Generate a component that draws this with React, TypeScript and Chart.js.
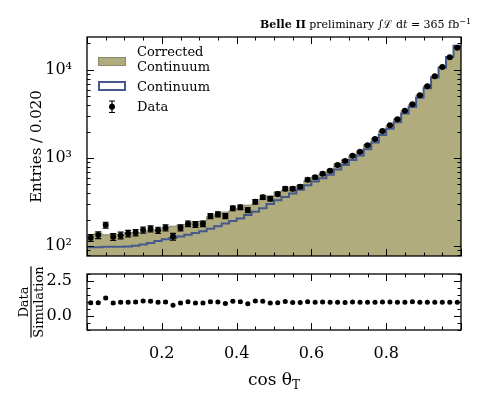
import React, { useEffect, useRef } from 'react';
import { Chart, registerables } from 'chart.js';
Chart.register(...registerables);

// ---------- data ----------
const binEdges = [
  0.0, 0.02, 0.04, 0.06, 0.08, 0.1, 0.12, 0.14, 0.16, 0.18, 0.2, 0.22, 0.24, 0.26, 0.28, 0.3, 0.32,
  0.34, 0.36, 0.38, 0.4, 0.42, 0.44, 0.46, 0.48, 0.5, 0.52, 0.54, 0.56, 0.58, 0.6, 0.62, 0.64, 0.66,
  0.68, 0.7, 0.72, 0.74, 0.76, 0.78, 0.8, 0.82, 0.84, 0.86, 0.88, 0.9, 0.92, 0.94, 0.96, 0.98, 1.0,
];
const binCenters = [
  0.01, 0.03, 0.05, 0.07, 0.09, 0.11, 0.13, 0.15, 0.17, 0.19, 0.21, 0.23, 0.25, 0.27, 0.29, 0.31, 0.33,
  0.35, 0.37, 0.39, 0.41, 0.43, 0.45, 0.47, 0.49, 0.51, 0.53, 0.55, 0.57, 0.59, 0.61, 0.63, 0.65, 0.67,
  0.69, 0.71, 0.73, 0.75, 0.77, 0.79, 0.81, 0.83, 0.85, 0.87, 0.89, 0.91, 0.93, 0.95, 0.97, 0.99,
];
const dataCounts = [
  124, 133, 173, 127, 132, 139, 142, 152, 157, 151, 161, 128, 161, 179, 176, 179, 219, 229, 219, 268,
  275, 256, 319, 357, 345, 390, 448, 448, 472, 566, 604, 663, 718, 832, 924, 1062, 1180, 1394, 1644,
  2028, 2355, 2754, 3450, 4077, 5158, 6530, 8470, 10810, 13930, 17910,
];
const correctedContinuum = [
  131, 140, 134, 137, 135, 142, 142, 142, 150, 154, 161, 168, 173, 175, 189, 192, 215, 229, 243, 255,
  270, 291, 298, 340, 371, 411, 431, 462, 487, 555, 610, 663, 725, 849, 953, 1062, 1192, 1422, 1661,
  2028, 2355, 2782, 3485, 4037, 5210, 6596, 8556, 10919, 14071, 18091,
];
const continuum = [
  97, 97, 98, 98, 98, 99, 101, 104, 108, 114, 119, 123, 128, 134, 141, 147, 157, 168, 180, 192, 206,
  225, 245, 268, 300, 330, 360, 395, 435, 490, 540, 590, 645, 740, 830, 950, 1070, 1260, 1500, 1830,
  2150, 2550, 3200, 3800, 4850, 6200, 8200, 10600, 14000, 18800,
];
const ratio = [
  0.95, 0.95, 1.29, 0.93, 0.98, 0.98, 1.0, 1.07, 1.05, 0.98, 1.0, 0.76, 0.93, 1.02, 0.93, 0.93, 1.02,
  1.0, 0.9, 1.05, 1.02, 0.88, 1.07, 1.05, 0.93, 0.95, 1.04, 0.97, 0.97, 1.02, 0.99, 1.0, 0.99, 0.98,
  0.97, 1.0, 0.99, 0.98, 0.99, 1.0, 1.0, 0.99, 0.99, 1.01, 0.99, 0.99, 0.99, 0.99, 0.99, 0.99,
];
const xTickLabels = [0.2, 0.4, 0.6, 0.8];
const xMajorTicks = [0, 0.2, 0.4, 0.6, 0.8, 1.0];
const xMinorTicks = [0.05, 0.1, 0.15, 0.25, 0.3, 0.35, 0.45, 0.5, 0.55, 0.65, 0.7, 0.75, 0.85, 0.9, 0.95];
const yMajorTicks = [100, 1000, 10000];
const yMinorTicks = [80, 90, 200, 300, 400, 500, 600, 700, 800, 900, 2000, 3000, 4000, 5000, 6000, 7000, 8000, 9000, 20000];
const rMajorTicks = [0, 2.5];
const rMinorTicks = [-1, -0.5, 0.5, 1, 1.5, 2, 3];

const FONT = "'DejaVu Serif', serif";
const KHAKI = '#b0ac7d';
const KHAKI_EDGE = '#8b8970';
const BLUE = '#46598c';

const supMap: Record<number, string> = { 100: '10²', 1000: '10³', 10000: '10⁴' };

const stepPoints = (vals: number[]) => [
  ...vals.map((v, i) => ({ x: binEdges[i], y: v })),
  { x: binEdges[vals.length], y: vals[vals.length - 1] },
];

function drawFrameTicks(chart: any, yMaj: number[], yMin: number[]) {
  const { ctx, chartArea, scales } = chart;
  const { left, right, top, bottom } = chartArea;
  const x = scales.x, y = scales.y;
  ctx.save();
  ctx.strokeStyle = '#000';
  ctx.lineWidth = 1;
  const seg = (x1: number, y1: number, x2: number, y2: number) => {
    ctx.beginPath(); ctx.moveTo(x1, y1); ctx.lineTo(x2, y2); ctx.stroke();
  };
  const MAJ = 7, MIN = 3.5;
  xMajorTicks.forEach((v) => { const p = Math.round(x.getPixelForValue(v)) + 0.5; seg(p, bottom, p, bottom - MAJ); seg(p, top, p, top + MAJ); });
  xMinorTicks.forEach((v) => { const p = Math.round(x.getPixelForValue(v)) + 0.5; seg(p, bottom, p, bottom - MIN); seg(p, top, p, top + MIN); });
  yMaj.forEach((v) => { const p = Math.round(y.getPixelForValue(v)) + 0.5; seg(left, p, left + MAJ, p); seg(right, p, right - MAJ, p); });
  yMin.forEach((v) => { const p = Math.round(y.getPixelForValue(v)) + 0.5; seg(left, p, left + MIN, p); seg(right, p, right - MIN, p); });
  ctx.lineWidth = 1.3;
  ctx.strokeRect(left, top, right - left, bottom - top);
  ctx.restore();
}

function drawErrorBars(chart: any, xs: number[], ys: number[], errs: number[], cap: number) {
  const { ctx, chartArea, scales } = chart;
  ctx.save();
  ctx.beginPath();
  ctx.rect(chartArea.left, chartArea.top, chartArea.right - chartArea.left, chartArea.bottom - chartArea.top);
  ctx.clip();
  ctx.strokeStyle = '#000';
  ctx.lineWidth = 1.2;
  xs.forEach((xv, i) => {
    const px = scales.x.getPixelForValue(xv);
    const y1 = scales.y.getPixelForValue(ys[i] + errs[i]);
    const y2 = scales.y.getPixelForValue(Math.max(ys[i] - errs[i], 1e-9));
    ctx.beginPath();
    ctx.moveTo(px, y1); ctx.lineTo(px, y2);
    ctx.moveTo(px - cap, y1); ctx.lineTo(px + cap, y1);
    ctx.moveTo(px - cap, y2); ctx.lineTo(px + cap, y2);
    ctx.stroke();
  });
  ctx.restore();
}

const topPlugin = {
  id: 'topDecor',
  afterDatasetsDraw(chart: any) {
    drawErrorBars(chart, binCenters, dataCounts, dataCounts.map((n) => Math.sqrt(n)), 3);
  },
  afterDraw(chart: any) {
    drawFrameTicks(chart, yMajorTicks, yMinorTicks);
    const ctx = chart.ctx;
    ctx.save();
    // header text
    const parts = [
      { t: 'Belle II', f: `bold 11px ${FONT}`, dy: 0 },
      { t: ' preliminary ', f: `11px ${FONT}`, dy: 0 },
      { t: '∫', f: `italic 11px ${FONT}`, dy: 0 },
      { t: 'ℒ', f: `11px ${FONT}`, dy: 0 },
      { t: ' d', f: `11px ${FONT}`, dy: 0 },
      { t: 't', f: `italic 11px ${FONT}`, dy: 0 },
      { t: ' = 365 fb', f: `11px ${FONT}`, dy: 0 },
      { t: '−1', f: `8px ${FONT}`, dy: -4.5 },
    ];
    let total = 0;
    parts.forEach((p) => { ctx.font = p.f; total += ctx.measureText(p.t).width; });
    let cx = 471 - total;
    ctx.fillStyle = '#000';
    ctx.textBaseline = 'alphabetic';
    ctx.textAlign = 'left';
    parts.forEach((p) => { ctx.font = p.f; ctx.fillText(p.t, cx, 28 + p.dy); cx += ctx.measureText(p.t).width; });

    // legend
    ctx.fillStyle = KHAKI;
    ctx.fillRect(98.5, 57.5, 27, 8);
    ctx.strokeStyle = KHAKI_EDGE; ctx.lineWidth = 1;
    ctx.strokeRect(98.5, 57.5, 27, 8);
    ctx.fillStyle = '#fff';
    ctx.fillRect(99, 82, 26, 8);
    ctx.strokeStyle = BLUE; ctx.lineWidth = 2;
    ctx.strokeRect(99, 82, 26, 8);
    // data marker
    ctx.strokeStyle = '#000'; ctx.lineWidth = 1.2;
    ctx.beginPath();
    ctx.moveTo(112, 101); ctx.lineTo(112, 112.5);
    ctx.moveTo(109, 101); ctx.lineTo(115, 101);
    ctx.moveTo(109, 112.5); ctx.lineTo(115, 112.5);
    ctx.stroke();
    ctx.fillStyle = '#000';
    ctx.beginPath(); ctx.arc(112, 106.8, 3, 0, Math.PI * 2); ctx.fill();
    ctx.font = `13px ${FONT}`;
    ctx.fillText('Corrected', 137, 55.5);
    ctx.fillText('Continuum', 137, 70.5);
    ctx.fillText('Continuum', 137, 91);
    ctx.fillText('Data', 137, 111);
    ctx.restore();
  },
};

const bottomPlugin = {
  id: 'bottomDecor',
  afterDatasetsDraw(chart: any) {
    drawErrorBars(chart, binCenters, ratio, ratio.map((r, i) => r / Math.sqrt(dataCounts[i])), 2);
  },
  afterDraw(chart: any) {
    drawFrameTicks(chart, rMajorTicks, rMinorTicks);
    const ctx = chart.ctx;
    ctx.save();
    ctx.fillStyle = '#000';
    // x title: cos θ_T
    ctx.textBaseline = 'alphabetic';
    ctx.textAlign = 'left';
    const main = 'cos θ';
    ctx.font = `17px ${FONT}`;
    const w1 = ctx.measureText(main).width;
    ctx.font = `12px ${FONT}`;
    const w2 = ctx.measureText('T').width;
    const cx = (chart.chartArea.left + chart.chartArea.right) / 2;
    let sx = cx - (w1 + w2) / 2;
    ctx.font = `17px ${FONT}`;
    ctx.fillText(main, sx, 120);
    ctx.font = `12px ${FONT}`;
    ctx.fillText('T', sx + w1, 123.5);
    // y title fraction Data / Simulation
    ctx.translate(31, (chart.chartArea.top + chart.chartArea.bottom) / 2);
    ctx.rotate(-Math.PI / 2);
    ctx.font = `13px ${FONT}`;
    ctx.textAlign = 'center';
    const ws = ctx.measureText('Simulation').width;
    ctx.fillText('Data', 0, -3);
    ctx.fillText('Simulation', 0, 12);
    ctx.fillRect(-ws / 2, -0.6, ws, 1.2);
    ctx.restore();
  },
};

export default function App() {
  const topRef = useRef<HTMLCanvasElement>(null);
  const botRef = useRef<HTMLCanvasElement>(null);

  useEffect(() => {
    Chart.defaults.font.family = FONT;
    Chart.defaults.color = '#000';
    const top = new Chart(topRef.current as HTMLCanvasElement, {
      type: 'scatter',
      data: {
        datasets: [
          {
            type: 'scatter',
            label: 'Data',
            data: binCenters.map((x, i) => ({ x, y: dataCounts[i] })),
            pointRadius: 3,
            pointBackgroundColor: '#000',
            pointBorderWidth: 0,
            order: 0,
          } as any,
          {
            type: 'line',
            label: 'Continuum',
            data: stepPoints(continuum),
            stepped: true,
            borderColor: BLUE,
            borderWidth: 2,
            pointRadius: 0,
            fill: false,
            order: 1,
          } as any,
          {
            type: 'line',
            label: 'Corrected Continuum',
            data: stepPoints(correctedContinuum),
            stepped: true,
            borderColor: KHAKI_EDGE,
            borderWidth: 1,
            backgroundColor: KHAKI,
            fill: 'start',
            pointRadius: 0,
            order: 2,
          } as any,
        ],
      },
      options: {
        animation: false,
        responsive: false,
        maintainAspectRatio: false,
        layout: { padding: { left: 0, top: 37, right: 17, bottom: 9 } },
        plugins: { legend: { display: false }, tooltip: { enabled: false } },
        scales: {
          x: { type: 'linear', min: 0, max: 1, display: false },
          y: {
            type: 'logarithmic',
            min: 77,
            max: 23700,
            grid: { display: false },
            border: { display: false },
            afterFit: (s: any) => { s.width = 87; s.paddingTop = 0; s.paddingBottom = 0; },
            afterBuildTicks: (s: any) => { s.ticks = yMajorTicks.map((v) => ({ value: v })); },
            ticks: {
              callback: (v: any) => supMap[Number(v)] ?? '',
              font: { family: FONT, size: 16 },
              color: '#000',
              padding: 7,
              autoSkip: false,
            },
            title: {
              display: true,
              text: 'Entries / 0.020',
              font: { family: FONT, size: 15 },
              color: '#000',
              padding: { top: 28, bottom: 0 },
            },
          },
        },
      } as any,
      plugins: [topPlugin],
    });

    const bottom = new Chart(botRef.current as HTMLCanvasElement, {
      type: 'scatter',
      data: {
        datasets: [
          {
            label: 'Data / Simulation',
            data: binCenters.map((x, i) => ({ x, y: ratio[i] })),
            pointRadius: 2.5,
            pointBackgroundColor: '#000',
            pointBorderWidth: 0,
          } as any,
        ],
      },
      options: {
        animation: false,
        responsive: false,
        maintainAspectRatio: false,
        layout: { padding: { left: 0, top: 9, right: 17, bottom: 0 } },
        plugins: { legend: { display: false }, tooltip: { enabled: false } },
        scales: {
          x: {
            type: 'linear',
            min: 0,
            max: 1,
            grid: { display: false },
            border: { display: false },
            afterFit: (s: any) => { s.height = 69; s.paddingLeft = 0; s.paddingRight = 0; },
            afterBuildTicks: (s: any) => { s.ticks = xTickLabels.map((v) => ({ value: v })); },
            ticks: {
              callback: (v: any) => Number(v).toFixed(1),
              font: { family: FONT, size: 16 },
              color: '#000',
              padding: 6,
              maxRotation: 0,
              autoSkip: false,
            },
          },
          y: {
            type: 'linear',
            min: -1,
            max: 3,
            grid: { display: false },
            border: { display: false },
            afterFit: (s: any) => { s.width = 87; s.paddingTop = 0; s.paddingBottom = 0; },
            afterBuildTicks: (s: any) => { s.ticks = rMajorTicks.map((v) => ({ value: v })); },
            ticks: {
              callback: (v: any) => Number(v).toFixed(1),
              font: { family: FONT, size: 16 },
              color: '#000',
              padding: 7,
              autoSkip: false,
            },
          },
        },
      } as any,
      plugins: [bottomPlugin],
    });

    return () => { top.destroy(); bottom.destroy(); };
  }, []);

  return (
    <div style={{ position: 'fixed', left: 0, top: 0, width: 478, height: 399, background: '#fff' }}>
      <canvas ref={topRef} width={478} height={265} style={{ position: 'absolute', left: 0, top: 0, width: 478, height: 265 }} />
      <canvas ref={botRef} width={478} height={134} style={{ position: 'absolute', left: 0, top: 265, width: 478, height: 134 }} />
    </div>
  );
}
